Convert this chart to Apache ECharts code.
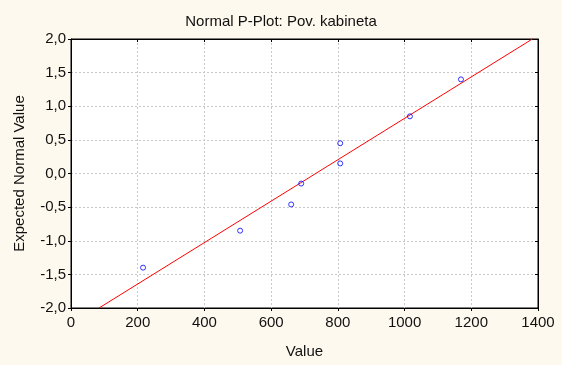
<!DOCTYPE html>
<html><head><meta charset="utf-8">
<script src="https://cdn.jsdelivr.net/npm/echarts@6/dist/echarts.min.js"></script>
<style>html,body{margin:0;padding:0;background:#fef9ee}#c{width:562px;height:365px}</style>
</head><body><div id="c"></div>
<script>
var obsValues = [216, 507, 660, 690, 807, 807, 1016, 1169];
var expectedNormal = [-1.40, -0.85, -0.46, -0.15, 0.15, 0.45, 0.85, 1.40];
var fitLineX = [84, 1383];
var fitLineY = [-2.0, 2.0];
var xTicks = [0, 200, 400, 600, 800, 1000, 1200, 1400];
var yTicks = [-2.0, -1.5, -1.0, -0.5, 0.0, 0.5, 1.0, 1.5, 2.0];

var font = 'Liberation Sans, Arial, sans-serif';
var chart = echarts.init(document.getElementById('c'));
var fmt = function(v){ return v.toFixed(1).replace('.', ','); };
chart.setOption({
  backgroundColor: '#fef9ee',
  animation: false,
  title: {text: 'Normal P-Plot: Pov. kabineta', left: 'center', top: 9,
    textStyle: {fontFamily: font, fontSize: 15, fontWeight: 'normal', color: '#111'}},
  grid: {left: 71, right: 24, top: 39, bottom: 57, show: true, backgroundColor: '#fff', borderColor: '#000', borderWidth: 1},
  xAxis: [{
    type: 'value', min: xTicks[0], max: xTicks[xTicks.length-1], interval: 200,
    name: 'Value', nameLocation: 'middle', nameGap: 36,
    nameTextStyle: {fontFamily: font, fontSize: 15, color: '#111'},
    axisLine: {onZero: false, lineStyle: {color: '#000'}},
    axisTick: {inside: false, length: 3, lineStyle: {color: '#000'}},
    axisLabel: {fontFamily: font, fontSize: 15, color: '#111', margin: 7, formatter: function(v){return String(v);}},
    splitLine: {show: true, lineStyle: {color: '#c8c8c8', type: [2, 2]}}
  }, {
    type: 'value', position: 'top', min: xTicks[0], max: xTicks[xTicks.length-1], interval: 200,
    axisLine: {show: true, onZero: false, lineStyle: {color: '#000'}},
    axisTick: {inside: true, length: 3, lineStyle: {color: '#000'}},
    axisLabel: {show: false}, splitLine: {show: false}
  }],
  yAxis: [{
    type: 'value', min: yTicks[0], max: yTicks[yTicks.length-1], interval: 0.5,
    name: 'Expected Normal Value', nameLocation: 'middle', nameGap: 44,
    nameTextStyle: {fontFamily: font, fontSize: 15, color: '#111'},
    axisLine: {show: true, onZero: false, lineStyle: {color: '#000'}},
    axisTick: {show: true, length: 3, lineStyle: {color: '#000'}},
    axisLabel: {fontFamily: font, fontSize: 15, color: '#111', margin: 5, formatter: fmt},
    splitLine: {show: true, lineStyle: {color: '#c8c8c8', type: [2, 2]}}
  }, {
    type: 'value', position: 'right', min: yTicks[0], max: yTicks[yTicks.length-1], interval: 0.5,
    axisLine: {show: true, onZero: false, lineStyle: {color: '#000'}},
    axisTick: {show: true, inside: true, length: 3, lineStyle: {color: '#000'}},
    axisLabel: {show: false}, splitLine: {show: false}
  }],
  series: [{
    type: 'line', data: fitLineX.map(function(x,i){return [x, fitLineY[i]];}),
    symbol: 'none', lineStyle: {color: '#ff0000', width: 1}, silent: true, z: 2
  }, {
    type: 'scatter', data: obsValues.map(function(x,i){return [x, expectedNormal[i]];}),
    symbol: 'circle', symbolSize: 5,
    itemStyle: {color: 'rgba(255,255,255,0)', borderColor: '#0000ff', borderWidth: 1}, z: 3
  }]
});
</script></body></html>
